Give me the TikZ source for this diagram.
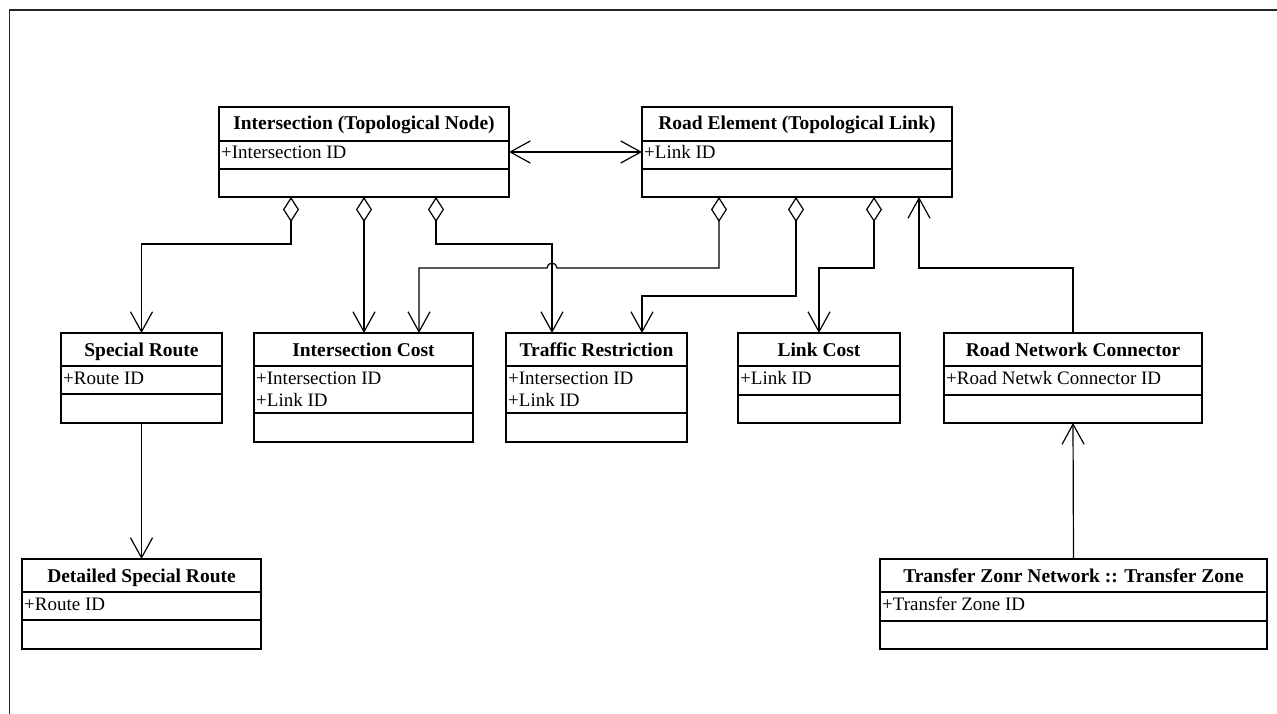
\documentclass[tikz,border=0pt]{standalone}
\usepackage{fontspec}
\setmainfont{Liberation Serif}
\usetikzlibrary{arrows.meta,calc}

% one unit = 1pt, y grows downwards
\tikzset{
  x=1pt, y=-1pt,
  classbox/.style={draw, line width=1.6pt, inner sep=0pt, outer sep=0pt},
  divider/.style={line width=1.6pt},
  classtitle/.style={anchor=base, inner sep=0pt, font=\fontsize{19.5}{22}\selectfont\bfseries},
  classattr/.style={anchor=base west, inner sep=0pt, font=\fontsize{19}{22}\selectfont},
  link/.style={line width=1.2pt},
  openhead/.style={link, -{Straight Barb[length=20pt, width=22pt]}},
  bothheads/.style={link, {Straight Barb[length=20pt, width=22pt]}-{Straight Barb[length=20pt, width=22pt]}},
  aggregation/.style={link, {Diamond[open, length=25pt, width=16pt]}-{Straight Barb[length=20pt, width=22pt]}},
}

% name, left, top, right, bottom, first divider, second divider, title, first attribute
\newcommand\umlclass[9]{%
  \node[classbox, minimum width={#4-#2}, minimum height={#5-#3}] (#1) at ({(#2+#4)/2},{(#3+#5)/2}) {};
  \draw[divider] (#2,#6) -- (#4,#6);
  \draw[divider] (#2,#7) -- (#4,#7);
  \node[classtitle] (#1-title) at ({(#2+#4)/2},{#3+23}) {#8};
  \node[classattr] (#1-attr) at ({#2+2},{#6+18}) {#9};
}

\begin{document}
\begin{tikzpicture}
\useasboundingbox (0,0) rectangle (1277,714);
\fill[white] (0,0) rectangle (1277,714);

% outer frame
\draw[line width=1.6pt, black!85] (9.5,714) -- (9.5,10) -- (1277,10);

% classes
\umlclass{isect}{219}{107}{509}{197}{141}{169}{Intersection (Topological Node)}{+Intersection ID}
\umlclass{road}{642}{107}{952}{197}{141}{169}{Road Element (Topological Link)}{+Link ID}
\umlclass{sroute}{61}{333}{222}{423}{366}{394}{Special Route}{+Route ID}
\umlclass{icost}{254}{333}{473}{442}{366}{413}{Intersection Cost}{+Intersection ID}
\node[classattr] (icost-attr2) at (256,406) {+Link ID};
\umlclass{traffic}{506}{333}{687}{442}{366}{413}{Traffic Restriction}{+Intersection ID}
\node[classattr] (traffic-attr2) at (508,406) {+Link ID};
\umlclass{lcost}{738}{333}{900}{423}{366}{395}{Link Cost}{+Link ID}
\umlclass{rnc}{944}{333}{1202}{423}{366}{395}{Road Network Connector}{+Road Netwk Connector ID}
\umlclass{dsr}{22}{559}{261}{649}{592}{620}{Detailed Special Route}{+Route ID}
\umlclass{tzone}{880}{559}{1267}{649}{592}{621}{Transfer Zonr Network :: Transfer Zone}{+Transfer Zone ID}

% association between the two topological classes
\draw[bothheads] ($(isect.north east)+(0,45)$) -- ($(road.north west)+(0,45)$);

% aggregations of the intersection
\draw[aggregation] ($(isect.south west)+(72,0)$) -- ++(0,47) -| (sroute.north);
\draw[aggregation] ($(isect.south west)+(145,0)$) -- ($(icost.north west)+(110,0)$);
\coordinate (trfdrop) at ($(traffic.north west)+(46,0)$);
\draw[aggregation] ($(isect.south west)+(217,0)$) -- ++(0,47) -| (trfdrop);

% aggregations of the road element
\coordinate (rowA) at ($(road.south west)+(77,71)$);
\draw[aggregation] ($(road.south west)+(77,0)$) -- (rowA)
  -- ($(trfdrop |- rowA)+(5,0)$) arc[start angle=0, end angle=-180, radius=5]
  -| ($(icost.north west)+(165,0)$);
\draw[aggregation] ($(road.south west)+(154,0)$) -- ++(0,99) -| ($(traffic.north west)+(136,0)$);
\draw[aggregation] ($(road.south west)+(232,0)$) -- ++(0,71) -| (lcost.north);

% directed associations
\draw[openhead] (rnc.north) -- ++(0,-65) -| ($(road.south west)+(277,0)$);
\draw[openhead] (tzone.north) -- (rnc.south);
\draw[openhead] (sroute.south) -- (dsr.north);
\end{tikzpicture}
\end{document}
